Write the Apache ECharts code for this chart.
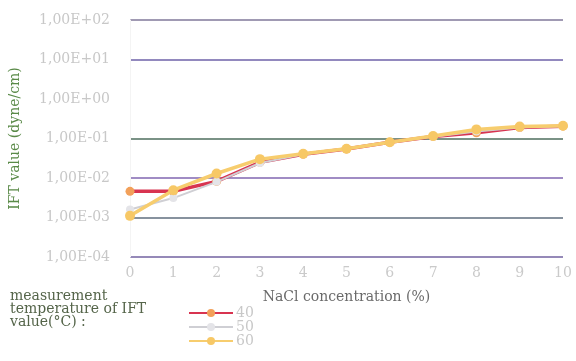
<!DOCTYPE html>
<html><head><meta charset="utf-8">
<script src="https://cdn.jsdelivr.net/npm/echarts@6/dist/echarts.min.js"></script>
<style>html,body{margin:0;padding:0;background:#fff}#c{width:576px;height:361px}</style>
</head><body><div id="c"></div>
<script>
const xValues = [0,1,2,3,4,5,6,7,8,9,10];
const seriesNames = ['40','50','60'];
const s40 = [0.0046,0.0046,0.0082,0.025,0.040,0.054,0.080,0.112,0.140,0.190,0.205];
const s50 = [0.0016,0.0031,0.0080,0.024,0.040,0.054,0.080,0.110,0.150,0.190,0.205];
const s60 = [0.0011,0.0049,0.0130,0.030,0.041,0.055,0.080,0.116,0.170,0.200,0.210];
const yTickLabels = {'-4':'1,00E-04','-3':'1,00E-03','-2':'1,00E-02','-1':'1,00E-01','0':'1,00E+00','1':'1,00E+01','2':'1,00E+02'};

const font = 'DejaVu Serif';
function pairs(arr){ return xValues.map((x,i)=>[x,arr[i]]); }
const chart = echarts.init(document.getElementById('c'), null, {renderer:'canvas'});
chart.setOption({
  animation:false,
  backgroundColor:'#fff',
  grid:{left:130,right:13,top:20,bottom:104},
  xAxis:{type:'value',min:0,max:10,interval:1,
    name:'NaCl concentration (%)',nameLocation:'middle',nameGap:33,
    nameTextStyle:{fontFamily:font,fontSize:14,color:'#6a6a6a'},
    axisLine:{show:false},axisTick:{show:false},splitLine:{show:false},
    axisLabel:{fontFamily:font,fontSize:14,color:'#cacaca',margin:9}},
  yAxis:{type:'log',logBase:10,min:0.0001,max:100,
    name:'IFT value (dyne/cm)',nameLocation:'middle',nameGap:108,
    nameTextStyle:{fontFamily:font,fontSize:14,color:'#5a8a48'},
    axisLine:{show:true,lineStyle:{color:'#f4f4f4',width:1}},axisTick:{show:false},
    axisLabel:{fontFamily:font,fontSize:14,color:'#c8c8c8',margin:20,
      formatter:v=>yTickLabels[String(Math.round(Math.log10(v)))]||''},
    splitLine:{show:true,lineStyle:{width:1.5,color:['#7262a0','#5f6e7e','#8066b0','#4e6e5e','rgba(0,0,0,0)','#6e62a8','#80789a']}}},
  legend:{orient:'vertical',left:183,top:301,itemWidth:44,itemHeight:10,itemGap:0,
    data:seriesNames,
    textStyle:{fontFamily:font,fontSize:14,lineHeight:13.5,color:'#c8c8c8',padding:[0,0,0,-2]}},
  graphic:[{type:'text',left:10,top:289,style:{text:'measurement\ntemperature of IFT\nvalue(°C) :',
    fontFamily:font,fontSize:14,lineHeight:13,fill:'#55654a'}}],
  series:[
    {name:'40',type:'line',data:pairs(s40),symbol:'circle',symbolSize:9,
      lineStyle:{color:'#d83450',width:3.5},itemStyle:{color:'#f2a05a'},z:2},
    {name:'50',type:'line',data:pairs(s50),symbol:'circle',symbolSize:8,
      lineStyle:{color:'#cfcfd4',width:2},itemStyle:{color:'#e4e4e8'},z:3},
    {name:'60',type:'line',data:pairs(s60),symbol:'circle',symbolSize:10,
      lineStyle:{color:'#f7cd6e',width:3.5},itemStyle:{color:'#f7c866'},z:4}
  ]
});
</script></body></html>
